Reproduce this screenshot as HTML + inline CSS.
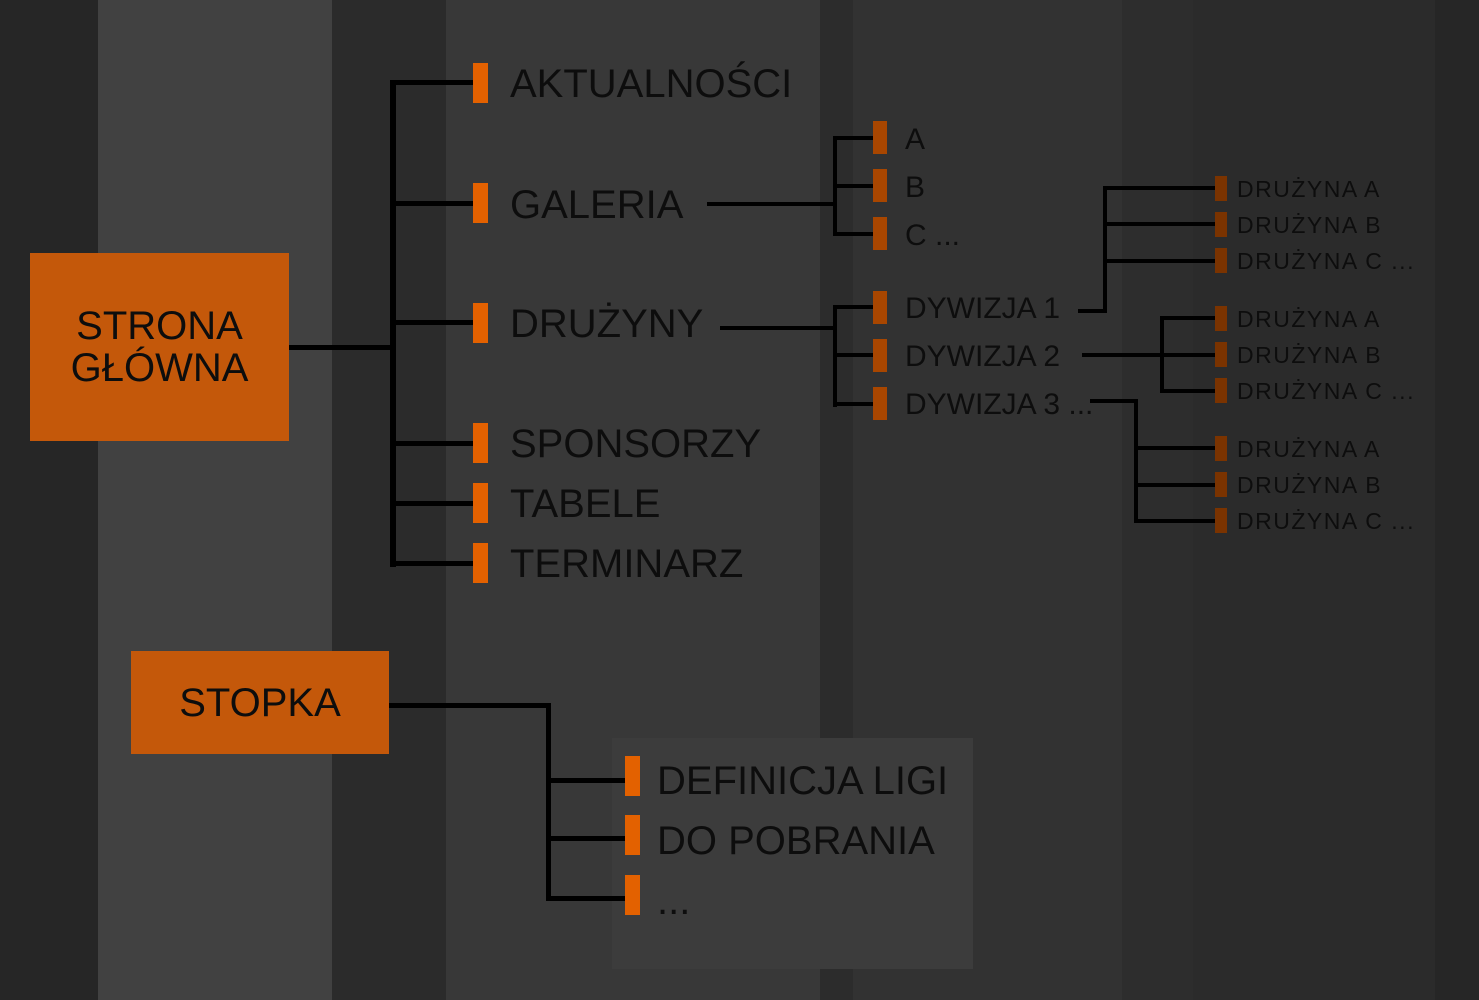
<!DOCTYPE html>
<html><head><meta charset="utf-8"><style>
*{margin:0;padding:0}
body{width:1479px;height:1000px;overflow:hidden;background:#262626;position:relative;font-family:"Liberation Sans","DejaVu Sans",sans-serif;color:#0d0d0d}
.c{position:absolute;top:0;height:1000px}
.b{position:absolute;background:#000}
.m{position:absolute;background:#e36100}
.m2{position:absolute;background:#a84600}
.m3{position:absolute;background:#7a3300}
.t{position:absolute;white-space:nowrap;line-height:1}
.d{letter-spacing:1.5px}
.box{position:absolute;background:#c4580a;display:flex;align-items:center;justify-content:center;text-align:center;font-size:40px;line-height:42px}
</style></head><body>
<div class="c" style="left:98px;width:234px;background:#414141"></div>
<div class="c" style="left:332px;width:114px;background:#2b2b2b"></div>
<div class="c" style="left:446px;width:374px;background:#383838"></div>
<div class="c" style="left:820px;width:33px;background:#2c2c2c"></div>
<div class="c" style="left:853px;width:269px;background:#323232"></div>
<div class="c" style="left:1122px;width:71px;background:#2d2d2d"></div>
<div class="c" style="left:1193px;width:242px;background:#2b2b2b"></div>
<div style="position:absolute;left:612px;top:738px;width:361px;height:231px;background:#3c3c3c"></div>

<div class="box" style="left:30px;top:253px;width:259px;height:188px">STRONA<br>GŁÓWNA</div>
<div class="box" style="left:131px;top:651px;width:258px;height:103px">STOPKA</div>

<div class="b" style="left:289px;top:345px;width:106px;height:5px"></div>
<div class="b" style="left:390px;top:80px;width:6px;height:487px"></div>
<div class="b" style="left:390px;top:80px;width:83px;height:5px"></div>
<div class="b" style="left:390px;top:201px;width:83px;height:5px"></div>
<div class="b" style="left:390px;top:320px;width:83px;height:5px"></div>
<div class="b" style="left:390px;top:441px;width:83px;height:5px"></div>
<div class="b" style="left:390px;top:501px;width:83px;height:5px"></div>
<div class="b" style="left:390px;top:561px;width:83px;height:5px"></div>
<div class="m" style="left:473px;top:63px;width:15px;height:40px"></div>
<div class="m" style="left:473px;top:183px;width:15px;height:40px"></div>
<div class="m" style="left:473px;top:303px;width:15px;height:40px"></div>
<div class="m" style="left:473px;top:423px;width:15px;height:40px"></div>
<div class="m" style="left:473px;top:483px;width:15px;height:40px"></div>
<div class="m" style="left:473px;top:543px;width:15px;height:40px"></div>
<div class="t" style="left:510px;top:64px;font-size:40px">AKTUALNOŚCI</div>
<div class="t" style="left:510px;top:185px;font-size:40px">GALERIA</div>
<div class="t" style="left:510px;top:304px;font-size:40px">DRUŻYNY</div>
<div class="t" style="left:510px;top:424px;font-size:40px">SPONSORZY</div>
<div class="t" style="left:510px;top:484px;font-size:40px">TABELE</div>
<div class="t" style="left:510px;top:544px;font-size:40px">TERMINARZ</div>

<div class="b" style="left:707px;top:202px;width:130px;height:4px"></div>
<div class="b" style="left:833px;top:136px;width:4px;height:100px"></div>
<div class="b" style="left:833px;top:136px;width:40px;height:4px"></div>
<div class="b" style="left:833px;top:184px;width:40px;height:4px"></div>
<div class="b" style="left:833px;top:232px;width:40px;height:4px"></div>
<div class="m2" style="left:873px;top:121px;width:14px;height:33px"></div>
<div class="m2" style="left:873px;top:169px;width:14px;height:33px"></div>
<div class="m2" style="left:873px;top:217px;width:14px;height:33px"></div>
<div class="t" style="left:905px;top:125px;font-size:30px">A</div>
<div class="t" style="left:905px;top:173px;font-size:30px">B</div>
<div class="t" style="left:905px;top:221px;font-size:30px">C ...</div>

<div class="b" style="left:720px;top:326px;width:117px;height:4px"></div>
<div class="b" style="left:833px;top:305px;width:4px;height:102px"></div>
<div class="b" style="left:833px;top:305px;width:40px;height:4px"></div>
<div class="b" style="left:833px;top:353px;width:40px;height:4px"></div>
<div class="b" style="left:833px;top:402px;width:40px;height:4px"></div>
<div class="m2" style="left:873px;top:291px;width:14px;height:33px"></div>
<div class="m2" style="left:873px;top:339px;width:14px;height:33px"></div>
<div class="m2" style="left:873px;top:387px;width:14px;height:33px"></div>
<div class="t" style="left:905px;top:294px;font-size:30px">DYWIZJA 1</div>
<div class="t" style="left:905px;top:342px;font-size:30px">DYWIZJA 2</div>
<div class="t" style="left:905px;top:390px;font-size:30px">DYWIZJA 3 ...</div>

<div class="b" style="left:1078px;top:309px;width:29px;height:4px"></div>
<div class="b" style="left:1103px;top:186px;width:4px;height:127px"></div>
<div class="b" style="left:1103px;top:186px;width:112px;height:4px"></div>
<div class="b" style="left:1103px;top:222px;width:112px;height:4px"></div>
<div class="b" style="left:1103px;top:259px;width:112px;height:4px"></div>
<div class="b" style="left:1082px;top:353px;width:133px;height:4px"></div>
<div class="b" style="left:1160px;top:316px;width:4px;height:77px"></div>
<div class="b" style="left:1160px;top:316px;width:55px;height:4px"></div>
<div class="b" style="left:1160px;top:389px;width:55px;height:4px"></div>
<div class="b" style="left:1090px;top:399px;width:48px;height:4px"></div>
<div class="b" style="left:1134px;top:399px;width:4px;height:124px"></div>
<div class="b" style="left:1134px;top:446px;width:81px;height:4px"></div>
<div class="b" style="left:1134px;top:483px;width:81px;height:4px"></div>
<div class="b" style="left:1134px;top:519px;width:81px;height:4px"></div>

<div class="m3" style="left:1215px;top:176px;width:12px;height:25px"></div>
<div class="m3" style="left:1215px;top:212px;width:12px;height:25px"></div>
<div class="m3" style="left:1215px;top:248px;width:12px;height:25px"></div>
<div class="m3" style="left:1215px;top:306px;width:12px;height:25px"></div>
<div class="m3" style="left:1215px;top:342px;width:12px;height:25px"></div>
<div class="m3" style="left:1215px;top:378px;width:12px;height:25px"></div>
<div class="m3" style="left:1215px;top:436px;width:12px;height:25px"></div>
<div class="m3" style="left:1215px;top:472px;width:12px;height:25px"></div>
<div class="m3" style="left:1215px;top:508px;width:12px;height:25px"></div>
<div class="t d" style="left:1237px;top:178px;font-size:23px">DRUŻYNA A</div>
<div class="t d" style="left:1237px;top:214px;font-size:23px">DRUŻYNA B</div>
<div class="t d" style="left:1237px;top:250px;font-size:23px">DRUŻYNA C ...</div>
<div class="t d" style="left:1237px;top:308px;font-size:23px">DRUŻYNA A</div>
<div class="t d" style="left:1237px;top:344px;font-size:23px">DRUŻYNA B</div>
<div class="t d" style="left:1237px;top:380px;font-size:23px">DRUŻYNA C ...</div>
<div class="t d" style="left:1237px;top:438px;font-size:23px">DRUŻYNA A</div>
<div class="t d" style="left:1237px;top:474px;font-size:23px">DRUŻYNA B</div>
<div class="t d" style="left:1237px;top:510px;font-size:23px">DRUŻYNA C ...</div>

<div class="b" style="left:389px;top:703px;width:162px;height:5px"></div>
<div class="b" style="left:546px;top:703px;width:5px;height:198px"></div>
<div class="b" style="left:546px;top:778px;width:79px;height:5px"></div>
<div class="b" style="left:546px;top:836px;width:79px;height:5px"></div>
<div class="b" style="left:546px;top:896px;width:79px;height:5px"></div>
<div class="m" style="left:625px;top:756px;width:15px;height:40px"></div>
<div class="m" style="left:625px;top:815px;width:15px;height:40px"></div>
<div class="m" style="left:625px;top:875px;width:15px;height:40px"></div>
<div class="t" style="left:657px;top:761px;font-size:40px">DEFINICJA LIGI</div>
<div class="t" style="left:657px;top:821px;font-size:40px">DO POBRANIA</div>
<div class="t" style="left:657px;top:881px;font-size:40px">...</div>
</body></html>
